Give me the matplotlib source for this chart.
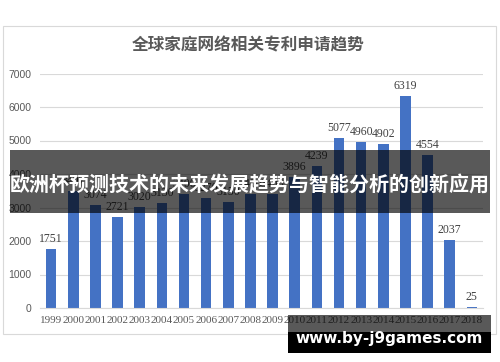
import numpy as np
import matplotlib.pyplot as plt
from matplotlib.patches import Rectangle

# data
years = [str(y) for y in range(1999, 2019)]
counts = [1751, 3497, 3074, 2721, 3020, 3130, 3400, 3270, 3150, 3400,
          3400, 3896, 4239, 5077, 4960, 4902, 6319, 4554, 2037, 25]
yticks = [0, 1000, 2000, 3000, 4000, 5000, 6000, 7000]

title = "全球家庭网络相关专利申请趋势"
banner = "欧洲杯预测技术的未来发展趋势与智能分析的创新应用"
watermark = "www.by-j9games.com"

W, H = 500, 362
fig = plt.figure(figsize=(W / 100, H / 100), dpi=100)

def fx(px):
    return px / W

def fy(py):
    return 1 - py / H

# outer chart frame
fig.patches.append(Rectangle((fx(3), fy(334)), fx(493), 308 / H, transform=fig.transFigure,
                             fill=False, edgecolor="#d9d9d9", linewidth=0.8))

ax = fig.add_axes([fx(40), fy(308), fx(443), (308 - 73.5) / H])
x = np.arange(len(years))
bars = ax.bar(x, counts, width=0.48, color="#4472C4", zorder=2)
ax.set_xlim(-0.5, len(years) - 0.5)
ax.set_ylim(0, 7000)
ax.set_yticks(yticks)
ax.set_xticks(x)
ax.set_xticklabels(years, fontfamily="Liberation Serif", fontsize=8, color="#595959")
for lbl in ax.get_yticklabels():
    lbl.set_fontfamily("Liberation Sans")
    lbl.set_fontsize(7.5)
    lbl.set_color("#595959")
ax.tick_params(length=0)
ax.tick_params(axis="x", pad=6)
ax.tick_params(axis="y", pad=6)
ax.grid(axis="y", color="#d9d9d9", linewidth=0.8, zorder=0)
for s in ["top", "right", "left"]:
    ax.spines[s].set_visible(False)
ax.spines["bottom"].set_color("#d9d9d9")

for b, v in zip(bars, counts):
    ax.annotate(str(v), (b.get_x() + b.get_width() / 2, v), xytext=(0, 3),
                textcoords="offset points", ha="center", va="bottom",
                fontfamily="Liberation Serif", fontsize=8.5, color="#404040")

fig.text(fx(248), fy(45), title, ha="center", va="center", fontsize=12,
         fontfamily="Noto Sans CJK SC", fontweight="bold", color="#595959")

# dark banner overlay
fig.patches.append(Rectangle((fx(10), fy(213)), fx(480), 63 / H, transform=fig.transFigure,
                             facecolor="black", alpha=0.65, edgecolor="none", zorder=10))
fig.text(fx(250), fy(185), banner, ha="center", va="center", fontsize=14.4,
         fontfamily="Noto Sans CJK SC", fontweight="bold", color="white", zorder=11)

# watermark box
fig.patches.append(Rectangle((fx(288), fy(332)), fx(203), 17 / H, transform=fig.transFigure,
                             facecolor="black", alpha=0.65, edgecolor="none", zorder=10))
fig.patches.append(Rectangle((fx(288), fy(353)), fx(203), 21 / H, transform=fig.transFigure,
                             facecolor="black", edgecolor="none", zorder=10))
fig.text(fx(389), fy(338), watermark, ha="center", va="center", fontsize=11,
         fontfamily="DejaVu Sans", fontweight="bold", color="white", zorder=11)

fig.savefig("out.png", dpi=100)
